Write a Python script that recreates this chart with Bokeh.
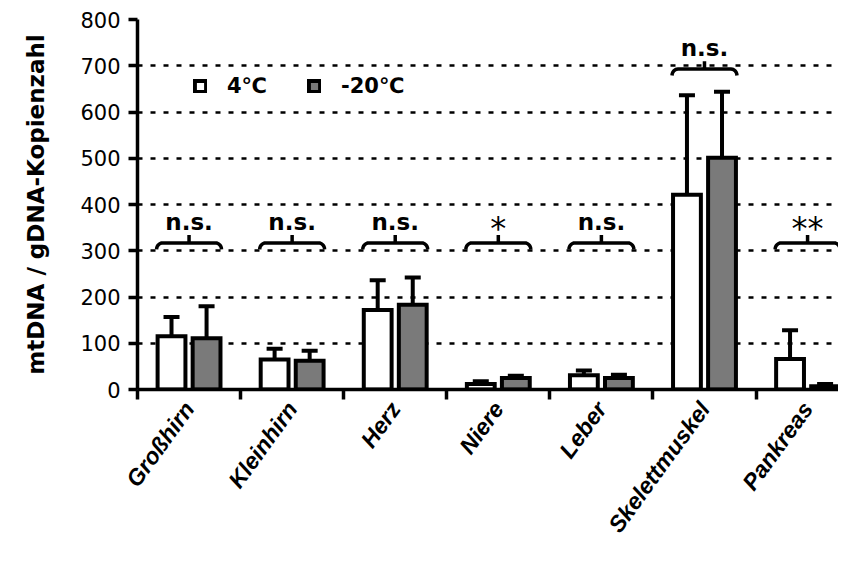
import math
from bokeh.plotting import figure
from bokeh.models import (ColumnDataSource, Whisker, TeeHead, FixedTicker, Range1d,
                          Legend, LegendItem)
from bokeh.core.properties import value
from bokeh.embed import file_html
from bokeh.resources import INLINE

# ---------------- data ----------------
categories = ["Großhirn", "Kleinhirn", "Herz", "Niere", "Leber", "Skelettmuskel", "Pankreas"]
mean_4 = [115, 65, 172, 12, 31, 421, 66]
err_4 = [42, 23, 64, 6, 10, 215, 62]
mean_m20 = [111, 62, 183, 25, 25, 501, 7]
err_m20 = [69, 22, 59, 5, 7, 143, 5]
bracket_y = [317, 317, 317, 317, 317, 693, 317]
signif = ["n.s.", "n.s.", "n.s.", "*", "n.s.", "n.s.", "**"]
y_ticks = [0, 100, 200, 300, 400, 500, 600, 700, 800]
grid_ticks = [100, 200, 300, 400, 500, 600, 700]
series_names = ["4\u2103", "-20\u2103"]

FONT = "DejaVu Sans"
OFF = 0.17
BW = 0.27

n = len(categories)
centers = [i + 0.5 for i in range(n)]
boundaries = list(range(n + 1))

p = figure(width=838, height=548, output_backend="svg", toolbar_location=None,
           x_range=Range1d(0, 6.80), y_range=Range1d(0, 800),
           min_border_left=137, min_border_right=0, min_border_top=19,
           min_border_bottom=159)
p.outline_line_color = None
p.background_fill_color = "white"

# grid
p.xgrid.visible = False
p.ygrid.ticker = FixedTicker(ticks=grid_ticks)
p.ygrid.grid_line_color = "black"
p.ygrid.grid_line_dash = "5 8"
p.ygrid.grid_line_width = 2.5

# bars
src4 = ColumnDataSource(dict(x=[c - OFF for c in centers], top=mean_4,
                             upper=[m + e for m, e in zip(mean_4, err_4)]))
src20 = ColumnDataSource(dict(x=[c + OFF for c in centers], top=mean_m20,
                              upper=[m + e for m, e in zip(mean_m20, err_m20)]))

for src in (src4, src20):
    w = Whisker(base="x", upper="upper", lower="top", source=src, dimension="height",
                line_width=4, line_color="black",
                upper_head=TeeHead(size=16, line_width=4, line_color="black"),
                lower_head=None)
    p.add_layout(w)

r4 = p.vbar(x="x", top="top", bottom=0, width=BW, source=src4, fill_color="white",
            line_color="black", line_width=4, line_join="miter")
r20 = p.vbar(x="x", top="top", bottom=0, width=BW, source=src20, fill_color="#7a7a7a",
             line_color="black", line_width=4, line_join="miter")

# brackets
rx = 0.06
ry = 14
tick_h = 17
xs, ys = [], []
for c, by in zip(centers, bracket_y):
    xl = c - OFF - BW / 2 - 0.01
    xr = c + OFF + BW / 2 + 0.01
    px_, py_ = [], []
    for k in range(7):
        t = math.radians(k * 15)
        px_.append(xl + rx * (1 - math.cos(t)))
        py_.append(by - ry + ry * math.sin(t))
    for k in range(6, -1, -1):
        t = math.radians(k * 15)
        px_.append(xr - rx * (1 - math.cos(t)))
        py_.append(by - ry + ry * math.sin(t))
    xs.append(px_)
    ys.append(py_)
    xs.append([c, c])
    ys.append([by, by + tick_h])
p.multi_line(xs=xs, ys=ys, line_color="black", line_width=3.5, line_join="round")

# significance labels
ns_idx = [i for i, s in enumerate(signif) if s == "n.s."]
st_idx = [i for i, s in enumerate(signif) if s != "n.s."]
p.text(x=[centers[i] for i in ns_idx], y=[bracket_y[i] + 45 for i in ns_idx],
       text=[signif[i] for i in ns_idx], text_align="center", text_baseline="alphabetic",
       text_font=value(FONT), text_font_style="bold", text_font_size="23px",
       text_color="black")
p.text(x=[centers[i] for i in st_idx], y=[bracket_y[i] + 33 for i in st_idx],
       text=[signif[i] for i in st_idx], text_align="center", text_baseline="alphabetic",
       text_font=value(FONT), text_font_style="normal", text_font_size="32px",
       text_color="black")

# axes
p.yaxis.ticker = FixedTicker(ticks=y_ticks)
p.yaxis.axis_line_width = 3.5
p.yaxis.major_tick_line_width = 3.5
p.yaxis.major_tick_out = 9
p.yaxis.major_tick_in = 0
p.yaxis.minor_tick_line_color = None
p.yaxis.major_label_text_font = FONT
p.yaxis.major_label_text_font_size = "21px"
p.yaxis.major_label_text_color = "black"
p.yaxis.major_label_standoff = 8
p.yaxis.axis_label = "mtDNA / gDNA-Kopienzahl"
p.yaxis.axis_label_text_font = FONT
p.yaxis.axis_label_text_font_style = "bold"
p.yaxis.axis_label_text_font_size = "23px"
p.yaxis.axis_label_text_color = "black"
p.yaxis.axis_label_standoff = 28

# x axis: category names at the centres, tick marks at the boundaries
p.xaxis.ticker = FixedTicker(ticks=centers, minor_ticks=boundaries)
p.xaxis.major_label_overrides = {c: name for c, name in zip(centers, categories)}
p.xaxis.axis_line_width = 3.5
p.xaxis.major_tick_line_color = None
p.xaxis.major_tick_out = 10
p.xaxis.major_tick_in = 0
p.xaxis.minor_tick_line_color = "black"
p.xaxis.minor_tick_line_width = 3.5
p.xaxis.minor_tick_out = 10
p.xaxis.minor_tick_in = 0
p.xaxis.major_label_orientation = math.radians(54)
p.xaxis.major_label_standoff = 5
p.xaxis.major_label_text_font = "Liberation Sans"
p.xaxis.major_label_text_font_style = "bold italic"
p.xaxis.major_label_text_font_size = "23px"
p.xaxis.major_label_text_color = "black"

# legend
legend = Legend(items=[LegendItem(label=series_names[0], renderers=[r4]),
                       LegendItem(label=series_names[1], renderers=[r20])],
                orientation="horizontal", location=(56, 291),
                glyph_width=14, glyph_height=14, label_standoff=20, spacing=40,
                padding=0, margin=0, border_line_color=None,
                background_fill_alpha=0,
                label_text_font=FONT, label_text_font_style="bold",
                label_text_font_size="21px", label_text_color="black")
p.add_layout(legend)

open("out.html", "w").write(file_html(p, INLINE))
